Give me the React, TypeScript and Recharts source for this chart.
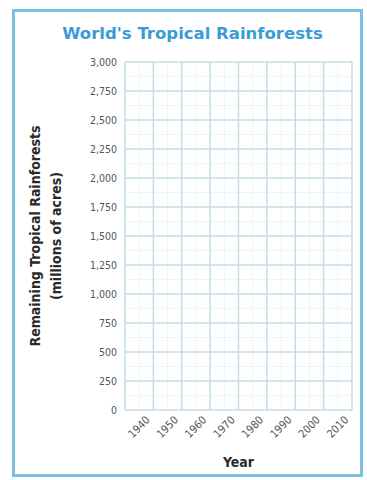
import React from 'react';
import { LineChart, Line, XAxis, YAxis, CartesianGrid, ReferenceLine, Label } from 'recharts';

// Blank worksheet grid: years along x, acres (millions) up the y axis
const years = [1940, 1950, 1960, 1970, 1980, 1990, 2000, 2010];
const acreTicks = [0, 250, 500, 750, 1000, 1250, 1500, 1750, 2000, 2250, 2500, 2750, 3000];
// nothing plotted yet - the student fills the values in
const remainingAcres: (number | null)[] = [null, null, null, null, null, null, null, null];

const chartData = years.map((year, i) => ({ year, acres: remainingAcres[i] }));

const NARROW = "'DejaVu Sans Condensed', 'Liberation Sans Narrow', 'Liberation Sans', sans-serif";
const MAIN_GRID = '#c6dde7';
const MINOR_GRID = '#eef5f8';

// column edges sit halfway between the decade ticks
const columnEdges = [years[0] - 5, ...years.map(y => y + 5)];
const minorRows = acreTicks.slice(1).map(v => v - 125);

const YearTick = (props: any) => {
  const { x, y, payload } = props;
  const cy = y + 17;
  return (
    <text
      x={x}
      y={cy}
      transform={`rotate(-45 ${x} ${cy})`}
      textAnchor="middle"
      dominantBaseline="central"
      fontFamily={NARROW}
      fontSize={11}
      fill="#555"
    >
      {payload.value}
    </text>
  );
};

const YLabel = (props: any) => {
  const vb = props.viewBox;
  const cy = vb.y + vb.height / 2;
  const x1 = vb.x - 30;
  const x2 = vb.x - 9;
  return (
    <g fontFamily={NARROW} fontWeight="bold" fontSize={14} fill="#2a2a2a">
      <text x={x1} y={cy} textAnchor="middle" dominantBaseline="central" transform={`rotate(-90 ${x1} ${cy})`}>
        Remaining Tropical Rainforests
      </text>
      <text x={x2} y={cy} textAnchor="middle" dominantBaseline="central" transform={`rotate(-90 ${x2} ${cy})`}>
        (millions of acres)
      </text>
    </g>
  );
};

const XLabel = (props: any) => {
  const vb = props.viewBox;
  return (
    <text
      x={vb.x + vb.width / 2}
      y={vb.y + 52}
      textAnchor="middle"
      dominantBaseline="central"
      fontFamily={NARROW}
      fontWeight="bold"
      fontSize={14}
      fill="#2a2a2a"
    >
      Year
    </text>
  );
};

export default function App() {
  return (
    <div style={{ position: 'absolute', left: 0, top: 0, width: 367, height: 480, background: '#fff' }}>
      <div
        style={{
          position: 'absolute',
          left: 12,
          top: 9,
          width: 345,
          height: 462,
          border: '3px solid #7cc1e2',
        }}
      />
      <div
        style={{
          position: 'absolute',
          left: 0,
          top: 24,
          width: 385,
          textAlign: 'center',
          fontFamily: "'DejaVu Sans', sans-serif",
          fontWeight: 'bold',
          fontSize: 16.5,
          color: '#3b9bd6',
          lineHeight: '20px',
        }}
      >
        World's Tropical Rainforests
      </div>
      <div style={{ position: 'absolute', left: 0, top: 0 }}>
        <LineChart width={367} height={480} data={chartData} margin={{ top: 62, right: 15, bottom: 30, left: 65 }}>
          <CartesianGrid
            stroke={MINOR_GRID}
            strokeWidth={1}
            horizontal={false}
          />
          {minorRows.map(v => (
            <ReferenceLine key={`r${v}`} y={v} stroke={MINOR_GRID} strokeWidth={1} ifOverflow="visible" />
          ))}
          <CartesianGrid stroke={MAIN_GRID} strokeWidth={1.5} vertical={false} />
          {columnEdges.map(v => (
            <ReferenceLine key={`c${v}`} x={v} stroke={MAIN_GRID} strokeWidth={1.5} ifOverflow="visible" />
          ))}
          <XAxis
            dataKey="year"
            type="number"
            domain={[columnEdges[0], columnEdges[columnEdges.length - 1]]}
            allowDataOverflow
            ticks={years}
            axisLine={false}
            tickLine={false}
            tickSize={0}
            tickMargin={0}
            height={40}
            tick={<YearTick />}
            interval={0}
          >
            <Label content={<XLabel />} />
          </XAxis>
          <YAxis
            type="number"
            domain={[0, 3000]}
            allowDataOverflow
            ticks={acreTicks}
            axisLine={false}
            tickLine={false}
            width={60}
            interval={0}
            tickFormatter={(v: number) => v.toLocaleString('en-US')}
            tick={{ fontFamily: NARROW, fontSize: 10.5, fill: '#555' }}
          >
            <Label content={<YLabel />} />
          </YAxis>
          <Line dataKey="acres" stroke="#3b9bd6" dot={false} isAnimationActive={false} />
        </LineChart>
      </div>
    </div>
  );
}
